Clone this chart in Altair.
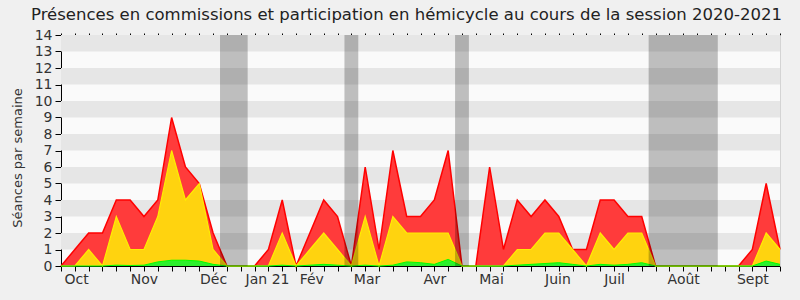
import altair as alt
import pandas as pd

# ---- data ----
weeks = list(range(53))
total = [0, 1, 2, 2, 4, 4, 3, 4, 9, 6, 5, 2, 0, 0, 0, 1, 4, 0,
         2, 4, 3, 0, 6, 1, 7, 3, 3, 4, 7, 0, 0, 6, 1, 4, 3, 4,
         3, 1, 1, 4, 4, 3, 3, 0, 0, 0, 0, 0, 0, 0, 1, 5, 1]
middle = [0, 0, 1, 0, 3, 1, 1, 3, 7, 4, 5, 1, 0, 0, 0, 0, 2, 0,
          1, 2, 1, 0, 3, 0, 3, 2, 2, 2, 2, 0, 0, 0, 0, 1, 1, 2,
          2, 1, 0, 2, 1, 2, 2, 0, 0, 0, 0, 0, 0, 0, 0, 2, 1]
low = [0, 0, 0, 0, 0.05, 0.03, 0.05, 0.25, 0.35, 0.35, 0.3, 0.1, 0, 0, 0, 0, 0.05, 0,
       0.05, 0.1, 0.05, 0, 0.05, 0, 0.05, 0.25, 0.2, 0.1, 0.4, 0, 0, 0, 0, 0.05, 0.1, 0.15,
       0.2, 0.1, 0, 0.1, 0.05, 0.1, 0.2, 0, 0, 0, 0, 0, 0, 0, 0, 0.3, 0.1]

month_pos = [1.1, 6.0, 11.0, 14.9, 18.1, 22.1, 27.0, 31.1, 35.9, 40.0, 45.0, 50.0]
month_names = ["Oct", "Nov", "Déc", "Jan 21", "Fév", "Mar", "Avr", "Mai",
               "Juin", "Juil", "Août", "Sept"]

vac_start = [11.5, 20.5, 28.5, 42.5]
vac_end = [13.5, 21.5, 29.5, 47.5]

stripe_lo = [1, 3, 5, 7, 9, 11, 13]
stripe_hi = [2, 4, 6, 8, 10, 12, 14]
y_ticks = list(range(15))

TITLE = "Présences en commissions et participation en hémicycle au cours de la session 2020-2021"
YTITLE = "Séances par semaine"

# ---- layout ----
W, H = 719, 231
FONT = "DejaVu Sans"

df = pd.DataFrame({"week": weeks, "total": total, "middle": middle, "low": low})
df_vac = pd.DataFrame({"start": vac_start, "end": vac_end})
df_str = pd.DataFrame({"lo": stripe_lo, "hi": stripe_hi})

xscale = alt.Scale(domain=[0, 52], nice=False, zero=False)
yscale = alt.Scale(domain=[0, 14], nice=False)

xvals = sorted(set(float(w) for w in weeks) | set(month_pos))
label_expr = ""
for p, n in zip(month_pos, month_names):
    label_expr += f"abs(datum.value - {p}) < 0.01 ? '{n}' : "
label_expr += "''"

stripes = alt.Chart(df_str).mark_rect(color="#e6e6e6").encode(
    x=alt.value(0), x2=alt.value(W),
    y=alt.Y("lo:Q", scale=yscale,
            axis=alt.Axis(orient="right", labels=False, ticks=False, grid=False,
                          domainColor="#d4d4d4", title=None)),
    y2="hi:Q",
)

red = alt.Chart(df).mark_area(
    color="#ff3b3b", opacity=1, line={"color": "#ff0000", "strokeWidth": 1.5}
).encode(
    x=alt.X("week:Q", scale=xscale,
            axis=alt.Axis(orient="bottom", values=xvals, labelExpr=label_expr,
                          tickOpacity={"condition": {"test": "datum.value % 1 != 0", "value": 0}, "value": 1},
                          tickSize=5, tickColor="black", domainColor="black",
                          labelFontSize=14, labelColor="#333", labelFont=FONT,
                          labelPadding=1, labelOverlap=False, labelFlush=False,
                          grid=False, title=None)),
    y=alt.Y("total:Q", scale=yscale,
            axis=alt.Axis(orient="left", values=y_ticks, tickSize=6, tickColor="black",
                          domainColor="black", labelFontSize=14, labelColor="#333",
                          labelFont=FONT, labelPadding=3, grid=False,
                          title=YTITLE, titleFont=FONT, titleFontSize=13,
                          titleFontWeight="normal", titleColor="#333", titlePadding=10,
                          titleY=H / 2 + 7)),
)

yellow = alt.Chart(df).mark_area(
    color="#ffd30f", opacity=1, line={"color": "#ffee00", "strokeWidth": 1.2}
).encode(
    x=alt.X("week:Q", scale=xscale, axis=None),
    y=alt.Y("middle:Q", scale=yscale, axis=None),
)

green = alt.Chart(df).mark_area(
    color="#2cf02c", opacity=1, line={"color": "#00ff00", "strokeWidth": 1}
).encode(
    x=alt.X("week:Q", scale=xscale, axis=None),
    y=alt.Y("low:Q", scale=yscale, axis=None),
)

bands = alt.Chart(df_vac).mark_rect(color="black", opacity=0.24).encode(
    x=alt.X("start:Q", scale=xscale,
            axis=alt.Axis(orient="top", values=weeks, labels=False, domain=False,
                          tickSize=2, tickColor="black", grid=False, title=None)),
    x2="end:Q",
    y=alt.value(0), y2=alt.value(H),
)

chart = alt.layer(stripes, red, yellow, green, bands).resolve_axis(
    x="independent", y="independent"
).properties(
    width=W, height=H,
    autosize=alt.AutoSizeParams(type="none"),
    padding={"left": 61, "top": 35, "right": 20, "bottom": 34},
    title=alt.TitleParams(TITLE, font=FONT, fontSize=16.5, fontWeight="normal",
                          color="#222", anchor="middle", dx=-14, offset=5),
).configure(background="#f0f0f0").configure_view(fill="#fafafa", stroke=None)

chart.save("out.html", embed_options={"renderer": "svg", "actions": False})
